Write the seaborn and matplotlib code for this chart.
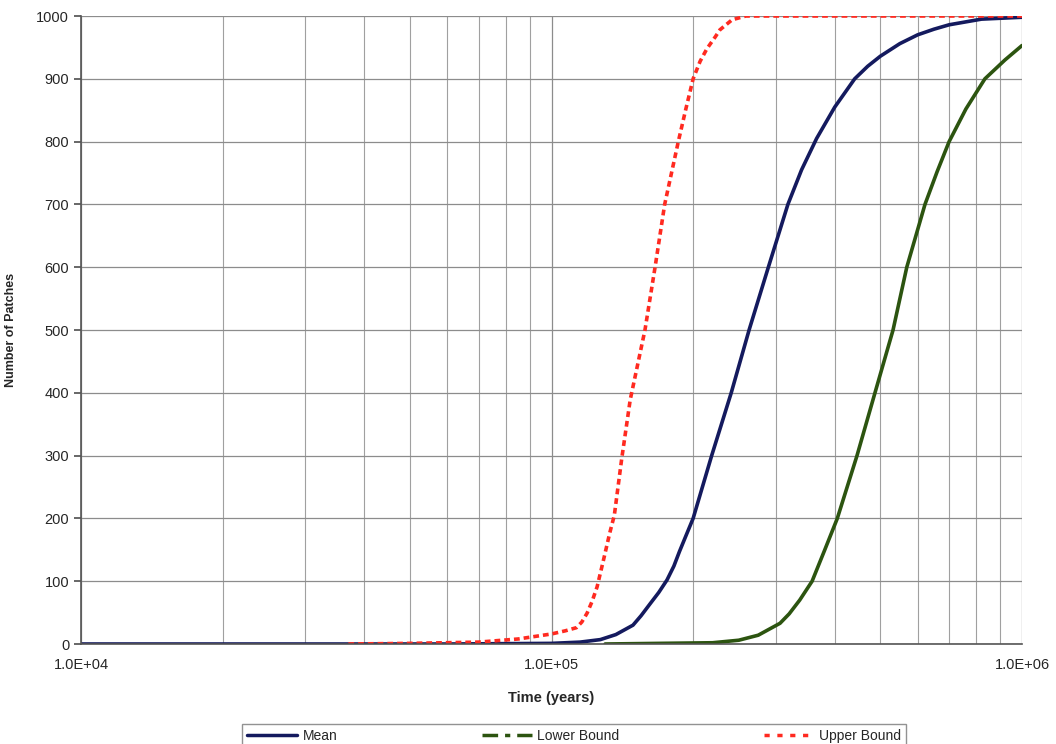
import matplotlib
matplotlib.use("Agg")
import matplotlib.pyplot as plt
import seaborn as sns
import pandas as pd
from matplotlib.lines import Line2D
from matplotlib.ticker import LogLocator, FixedLocator, FuncFormatter

# ---- data ----
upper_t = [37000, 50000, 70000, 85000, 100000, 107000, 113000, 116000, 119000,
           122000, 125000, 129000, 133000, 136000, 141000, 147000, 158000,
           166000, 174000, 186000, 193000, 200000, 207000, 214000, 223000,
           228000, 242000, 259000, 1000000]
upper_v = [0, 1, 3, 8, 16, 21, 26, 35, 49, 68, 91, 134, 177, 205, 295, 389,
           500, 600, 700, 800, 852, 900, 928, 948, 967, 978, 994, 1000, 1000]

mean_t = [10000, 60000, 100000, 115000, 127000, 137000, 149000, 155000, 162000,
          169000, 176000, 182000, 187000, 193000, 200000, 219000, 241000,
          263000, 289000, 318000, 340000, 366000, 400000, 441000, 470000,
          500000, 550000, 600000, 650000, 700000, 820000, 1000000]
mean_v = [0, 0, 1, 3, 7, 15, 30, 45, 64, 82, 102, 124, 147, 172, 200, 300, 400,
          500, 600, 700, 755, 805, 855, 900, 920, 936, 956, 970, 979, 986, 995,
          998]

lower_t = [130000, 220000, 250000, 275000, 306000, 320000, 337000, 358000,
           380000, 405000, 446000, 487000, 532000, 569000, 622000, 660000,
           700000, 760000, 834000, 920000, 1000000]
lower_v = [0, 2, 6, 14, 33, 48, 70, 100, 148, 200, 300, 400, 500, 600, 700, 752,
           800, 852, 900, 930, 953]

x_ticks = [1e4, 1e5, 1e6]
x_tick_labels = ["1.0E+04", "1.0E+05", "1.0E+06"]
y_ticks = list(range(0, 1001, 100))

series_names = ["Mean", "Lower Bound", "Upper Bound"]
colors = {"Mean": "#141a5e", "Lower Bound": "#2c5410", "Upper Bound": "#ff2a20"}

df = pd.concat([
    pd.DataFrame({"t": mean_t, "n": mean_v, "s": "Mean"}),
    pd.DataFrame({"t": lower_t, "n": lower_v, "s": "Lower Bound"}),
    pd.DataFrame({"t": upper_t, "n": upper_v, "s": "Upper Bound"}),
])

sns.set_theme(style="white")
plt.rcParams["font.family"] = ["Liberation Sans", "DejaVu Sans"]

fig = plt.figure(figsize=(10.56, 7.44), dpi=100)
ax = fig.add_axes([81 / 1056, 1 - 644 / 744, (1022 - 81) / 1056, (644 - 16) / 744])

ax.set_xscale("log")
ax.set_xlim(1e4, 1e6)
ax.set_ylim(0, 1000)

# grid
ax.xaxis.set_major_locator(FixedLocator(x_ticks))
ax.xaxis.set_minor_locator(LogLocator(base=10, subs=range(2, 10)))
ax.yaxis.set_major_locator(FixedLocator(y_ticks))
ax.grid(True, which="major", axis="both", color="#8c8c8c", lw=0.9)
ax.grid(True, which="minor", axis="x", color="#a0a0a0", lw=0.8)
ax.set_axisbelow(True)

lw = 2.6
for name in ["Lower Bound", "Mean", "Upper Bound"]:
    sub = df[df["s"] == name]
    ls = (0, (1.6, 1.1)) if name == "Upper Bound" else "-"
    sns.lineplot(data=sub, x="t", y="n", ax=ax, color=colors[name], lw=lw,
                 linestyle=ls, estimator=None, sort=False, legend=False)

ax.xaxis.set_major_formatter(FuncFormatter(
    lambda v, p: x_tick_labels[x_ticks.index(v)] if v in x_ticks else ""))
ax.xaxis.set_minor_formatter(FuncFormatter(lambda v, p: ""))
ax.tick_params(axis="x", which="major", labelsize=10.5, pad=10, length=0)
ax.tick_params(axis="x", which="minor", length=0)
ax.tick_params(axis="y", labelsize=10.5, length=5, color="#555555", direction="out", left=True)

for side in ["top", "right"]:
    ax.spines[side].set_visible(False)
for side in ["left", "bottom"]:
    ax.spines[side].set_color("#555555")
    ax.spines[side].set_linewidth(1.2)

ax.set_xlabel("Time (years)", fontsize=10.5, fontweight="bold", labelpad=14)
ax.set_ylabel("Number of Patches", fontsize=9, fontweight="bold")
ax.yaxis.set_label_coords((17 - 81) / 941, 0.5)

handles = [
    Line2D([], [], color=colors["Mean"], lw=2.5),
    Line2D([], [], color=colors["Lower Bound"], lw=2.5, dashes=(4.5, 2, 1.5, 2)),
    Line2D([], [], color=colors["Upper Bound"], lw=2.5, dashes=(1.5, 2.2)),
]
leg = fig.legend(handles, series_names, loc="lower center", ncol=3,
                 bbox_to_anchor=(0.5436, -0.014), fontsize=10,
                 handlelength=3.6, columnspacing=10.4, handletextpad=0.4,
                 fancybox=False, frameon=True, borderpad=0.35)
leg.get_frame().set_edgecolor("#777777")
leg.get_frame().set_linewidth(1.0)

fig.savefig("out.png", dpi=100)
